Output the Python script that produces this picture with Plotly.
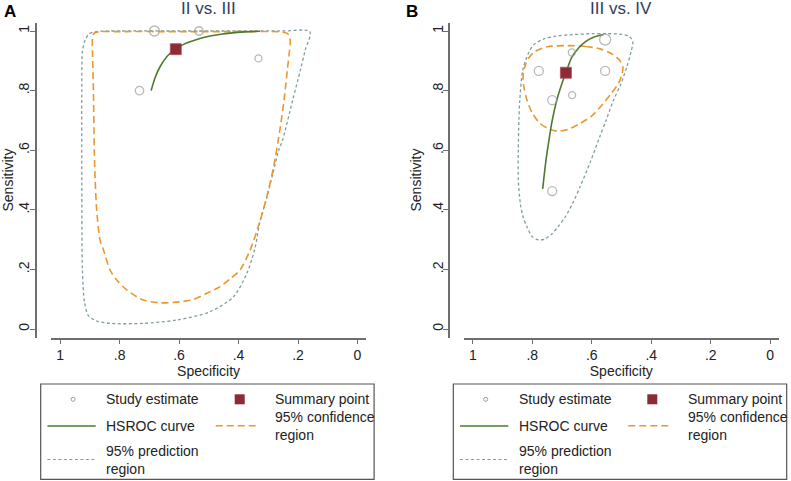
import plotly.graph_objects as go

W, H = 791, 481

# ---------------- data (specificity, sensitivity) ----------------
panel_titles = ["II vs. III", "III vs. IV"]
panel_letters = ["A", "B"]
tick_vals = [0, 0.2, 0.4, 0.6, 0.8, 1]
tick_text = ["0", ".2", ".4", ".6", ".8", "1"]

# Panel A
study_spec_a = [0.683, 0.533, 0.333, 0.733]
study_sens_a = [1.000, 1.000, 0.908, 0.800]
study_weight_a = [10, 8.5, 7, 8.5]
summary_spec_a = [0.611]
summary_sens_a = [0.939]
hsroc_spec_a = [0.694, 0.680, 0.664, 0.640, 0.611, 0.585, 0.563, 0.530, 0.496, 0.460, 0.429, 0.380, 0.328]
hsroc_sens_a = [0.800, 0.845, 0.880, 0.915, 0.939, 0.955, 0.964, 0.975, 0.983, 0.989, 0.993, 0.997, 0.999]
conf_spec_a = [0.600, 0.400, 0.262, 0.236, 0.228, 0.226, 0.229, 0.236, 0.247, 0.261, 0.283, 0.305, 0.330,
               0.361, 0.395, 0.430, 0.462, 0.510, 0.552, 0.600, 0.664, 0.720, 0.776, 0.810, 0.832, 0.854,
               0.866, 0.877, 0.882, 0.885, 0.888, 0.891, 0.891, 0.886, 0.872, 0.800, 0.600]
conf_sens_a = [0.998, 0.998, 0.997, 0.992, 0.980, 0.960, 0.930, 0.869, 0.768, 0.668, 0.540, 0.444, 0.355,
               0.265, 0.198, 0.167, 0.142, 0.118, 0.099, 0.091, 0.088, 0.097, 0.131, 0.165, 0.198, 0.265,
               0.300, 0.400, 0.500, 0.600, 0.800, 0.930, 0.975, 0.992, 0.997, 0.998, 0.998]
pred_spec_a = [0.600, 0.400, 0.250, 0.160, 0.176, 0.192, 0.218, 0.252, 0.265, 0.285, 0.305, 0.328, 0.345,
               0.372, 0.417, 0.496, 0.608, 0.720, 0.832, 0.880, 0.905, 0.918, 0.925, 0.927, 0.927, 0.925,
               0.916, 0.903, 0.880, 0.800, 0.600]
pred_sens_a = [1.000, 1.000, 1.000, 0.998, 0.935, 0.869, 0.768, 0.634, 0.600, 0.520, 0.440, 0.360, 0.270,
               0.187, 0.108, 0.058, 0.030, 0.019, 0.019, 0.028, 0.045, 0.090, 0.200, 0.500, 0.800, 0.930,
               0.970, 0.990, 0.998, 1.000, 1.000]

# Panel B
study_spec_b = [0.778, 0.667, 0.555, 0.555, 0.733, 0.666, 0.733]
study_sens_b = [0.866, 0.928, 0.971, 0.866, 0.768, 0.785, 0.463]
study_weight_b = [9, 7, 11, 9, 9, 7, 9]
summary_spec_b = [0.687]
summary_sens_b = [0.860]
hsroc_spec_b = [0.765, 0.756, 0.746, 0.733, 0.717, 0.700, 0.687, 0.667, 0.645, 0.620, 0.594, 0.560]
hsroc_sens_b = [0.470, 0.550, 0.620, 0.700, 0.770, 0.825, 0.860, 0.912, 0.942, 0.965, 0.979, 0.988]
conf_spec_b = [0.684, 0.620, 0.572, 0.530, 0.505, 0.495, 0.500, 0.510, 0.535, 0.561, 0.600, 0.639, 0.680,
               0.717, 0.745, 0.774, 0.800, 0.818, 0.828, 0.831, 0.825, 0.813, 0.790, 0.750, 0.684]
conf_sens_b = [0.951, 0.948, 0.940, 0.922, 0.900, 0.877, 0.850, 0.824, 0.790, 0.757, 0.715, 0.690, 0.670,
               0.664, 0.672, 0.690, 0.725, 0.768, 0.810, 0.845, 0.880, 0.908, 0.932, 0.947, 0.951]
pred_spec_b = [0.662, 0.600, 0.549, 0.500, 0.474, 0.462, 0.468, 0.482, 0.503, 0.527, 0.552, 0.575, 0.605,
               0.639, 0.665, 0.690, 0.712, 0.735, 0.758, 0.779, 0.800, 0.818, 0.832, 0.840, 0.847, 0.847,
               0.845, 0.842, 0.832, 0.813, 0.796, 0.762, 0.720, 0.662]
pred_sens_b = [0.988, 0.991, 0.991, 0.989, 0.982, 0.965, 0.930, 0.880, 0.820, 0.768, 0.700, 0.640, 0.560,
               0.478, 0.420, 0.375, 0.345, 0.318, 0.302, 0.299, 0.310, 0.343, 0.380, 0.420, 0.500, 0.600,
               0.700, 0.768, 0.869, 0.925, 0.953, 0.973, 0.983, 0.988]

legend_labels = ["Study estimate", "Summary point", "HSROC curve",
                 "95% confidence<br>region", "95% prediction<br>region"]

# ---------------- styles ----------------
FONT = "Liberation Sans, Arial, sans-serif"
C_STUDY = "#9a9a9a"
C_SUM = "#8c2a36"
C_HSROC = "#4e7a2e"
C_CONF = "#e8982f"
C_PRED = "#7f9ea3"
C_AXIS = "#6e6e6e"
C_TITLE = "#2f3d62"

def px2x(px):
    return px / W

def py2y(py):
    return 1 - py / H

# panel geometry in pixels
panels = [
    dict(x0=50.8, x1=366.4, yline=35.7, dx=0.0),
    dict(x0=463.5, x1=779.1, yline=449.0, dx=412.6),
]
Y_TOP, Y_BOT = 22.5, 337.5

fig = go.Figure()

data_sets = [
    (study_spec_a, study_sens_a, study_weight_a, summary_spec_a, summary_sens_a,
     hsroc_spec_a, hsroc_sens_a, conf_spec_a, conf_sens_a, pred_spec_a, pred_sens_a),
    (study_spec_b, study_sens_b, study_weight_b, summary_spec_b, summary_sens_b,
     hsroc_spec_b, hsroc_sens_b, conf_spec_b, conf_sens_b, pred_spec_b, pred_sens_b),
]

for i, ds in enumerate(data_sets):
    (s_sp, s_se, s_w, m_sp, m_se, h_sp, h_se, c_sp, c_se, p_sp, p_se) = ds
    xa = "x" if i == 0 else "x2"
    ya = "y" if i == 0 else "y2"
    fig.add_trace(go.Scatter(x=p_sp, y=p_se, xaxis=xa, yaxis=ya, mode="lines",
                             line=dict(color=C_PRED, width=1.3, dash="3px,2.5px", shape="spline", smoothing=0.8),
                             showlegend=False, hoverinfo="skip"))
    fig.add_trace(go.Scatter(x=c_sp, y=c_se, xaxis=xa, yaxis=ya, mode="lines",
                             line=dict(color=C_CONF, width=1.6, dash="7px,4px", shape="spline", smoothing=0.8),
                             showlegend=False, hoverinfo="skip"))
    fig.add_trace(go.Scatter(x=h_sp, y=h_se, xaxis=xa, yaxis=ya, mode="lines",
                             line=dict(color=C_HSROC, width=1.6, shape="spline", smoothing=0.8),
                             showlegend=False))
    fig.add_trace(go.Scatter(x=s_sp, y=s_se, xaxis=xa, yaxis=ya, mode="markers",
                             marker=dict(symbol="circle-open", size=s_w, color=C_STUDY,
                                         line=dict(width=1.3, color=C_STUDY)),
                             showlegend=False))
    fig.add_trace(go.Scatter(x=m_sp, y=m_se, xaxis=xa, yaxis=ya, mode="markers",
                             marker=dict(symbol="square", size=11, color=C_SUM,
                                         line=dict(width=0.8, color="#b0505c")),
                             showlegend=False))

y_lo = -(Y_BOT - 329.0) / 298.0
y_hi = 1 + (31.0 - Y_TOP) / 298.0
x_hi = 1 + 9.3 / 297.4
x_lo = -(315.6 - 9.3 - 297.4) / 297.4

axis_common = dict(showgrid=False, zeroline=False, showline=True, linecolor=C_AXIS, linewidth=1.5,
                   ticks="outside", tickcolor=C_AXIS, tickwidth=1.3,
                   tickvals=tick_vals, ticktext=tick_text,
                   tickfont=dict(family=FONT, size=14, color="#222222"),
                   fixedrange=True, automargin=False)

for i, p in enumerate(panels):
    sfx = "" if i == 0 else "2"
    fig.layout["xaxis" + sfx] = dict(axis_common, domain=[px2x(p["x0"]), px2x(p["x1"])],
                                     range=[x_hi, x_lo], anchor="y" + sfx, ticklen=5, ticklabelstandoff=-1,
                                     title=dict(text="Specificity", font=dict(family=FONT, size=14, color="#222222"),
                                                standoff=0))
    fig.layout["yaxis" + sfx] = dict(axis_common, domain=[py2y(Y_BOT), py2y(Y_TOP)],
                                     range=[y_lo, y_hi], anchor="free", position=px2x(p["yline"]),
                                     ticklen=5, tickangle=-90, ticklabelstandoff=-5,
                                     title=dict(text="Sensitivity", font=dict(family=FONT, size=14, color="#222222"),
                                                standoff=4))

annotations = []
shapes = []
for i, p in enumerate(panels):
    cx = (p["x0"] + p["x1"]) / 2
    annotations.append(dict(text=panel_titles[i], x=px2x(cx), y=py2y(9), xref="paper", yref="paper",
                            showarrow=False, xanchor="center", yanchor="middle",
                            font=dict(family=FONT, size=17, color=C_TITLE)))
    lx = 10 if i == 0 else 412
    annotations.append(dict(text="<b>" + panel_letters[i] + "</b>", x=px2x(lx), y=py2y(11), xref="paper",
                            yref="paper", showarrow=False, xanchor="center", yanchor="middle",
                            font=dict(family=FONT, size=17, color="#000000")))
    d = p["dx"]
    # legend box
    shapes.append(dict(type="rect", xref="paper", yref="paper", x0=px2x(40.7 + d), x1=px2x(374.1 + d),
                       y0=py2y(479.3), y1=py2y(384), line=dict(color="#555555", width=1.2)))
    # study estimate marker
    shapes.append(dict(type="circle", xref="paper", yref="paper", x0=px2x(71.1 + d), x1=px2x(75.1 + d),
                       y0=py2y(401.3), y1=py2y(397.3), line=dict(color=C_STUDY, width=1)))
    # summary square
    shapes.append(dict(type="rect", xref="paper", yref="paper", x0=px2x(234.7 + d), x1=px2x(244.7 + d),
                       y0=py2y(404.3), y1=py2y(394.3), fillcolor=C_SUM, line=dict(width=0)))
    # hsroc line
    shapes.append(dict(type="line", xref="paper", yref="paper", x0=px2x(47.4 + d), x1=px2x(95.7 + d),
                       y0=py2y(426), y1=py2y(426), line=dict(color=C_HSROC, width=1.4)))
    # confidence dashed
    shapes.append(dict(type="line", xref="paper", yref="paper", x0=px2x(215.7 + d), x1=px2x(259.1 + d),
                       y0=py2y(425.7), y1=py2y(425.7), line=dict(color=C_CONF, width=1.5, dash="7px,4px")))
    # prediction dotted
    shapes.append(dict(type="line", xref="paper", yref="paper", x0=px2x(47.4 + d), x1=px2x(95.7 + d),
                       y0=py2y(459.5), y1=py2y(459.5), line=dict(color=C_PRED, width=1.2, dash="3px,2.5px")))
    text_pos = [(104.1, 399.3), (273.1, 399.3), (104.1, 426), (273.1, 426.3), (104.1, 460.3)]
    for lbl, (tx, ty) in zip(legend_labels, text_pos):
        annotations.append(dict(text=lbl, x=px2x(tx + d), y=py2y(ty), xref="paper", yref="paper",
                                showarrow=False, xanchor="left", yanchor="middle", align="left",
                                font=dict(family=FONT, size=14, color="#222222")))

fig.update_layout(width=W, height=H, margin=dict(l=0, r=0, t=0, b=0),
                  paper_bgcolor="white", plot_bgcolor="white",
                  annotations=annotations, shapes=shapes, showlegend=False)

fig.write_html("out.html", config={"displayModeBar": False},
               post_script="document.body.style.margin='0px';")
